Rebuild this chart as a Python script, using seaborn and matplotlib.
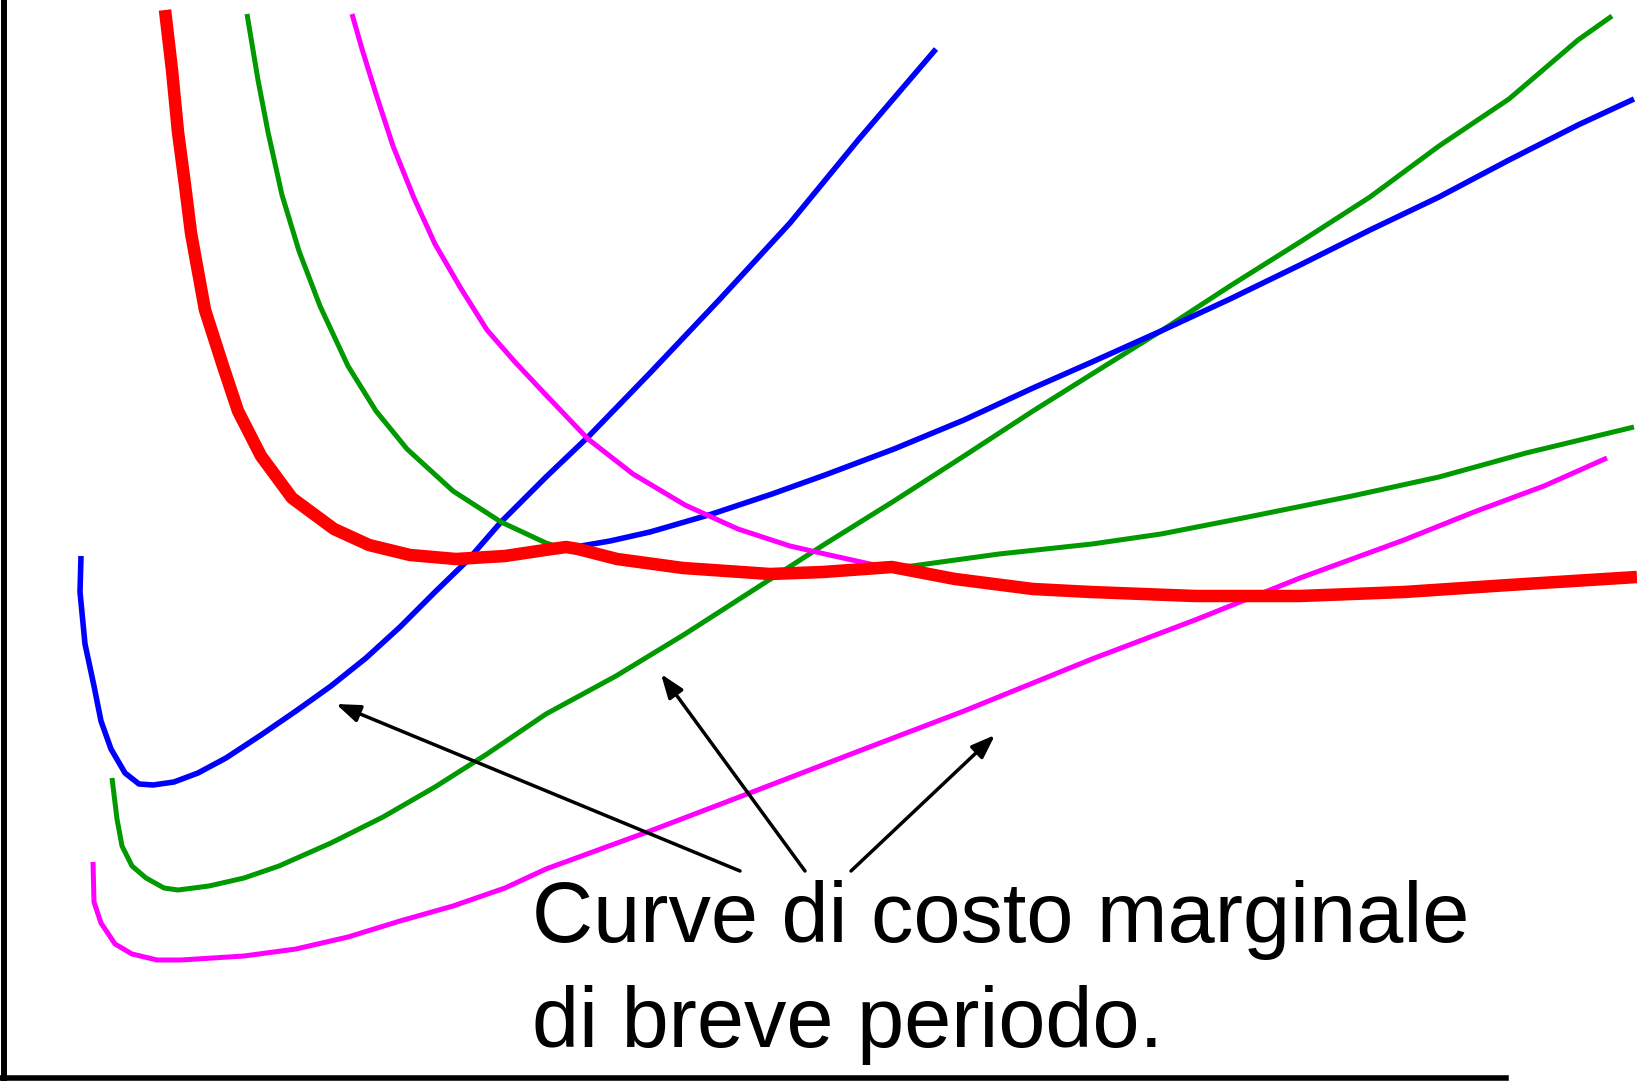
import matplotlib
matplotlib.use("Agg")
import matplotlib.pyplot as plt
import pandas as pd
import seaborn as sns

sns.set_style("white")
plt.rcParams["font.family"] = ["Liberation Sans", "DejaVu Sans"]

# Long-run envelope (thick red)
lac_q = [165, 172, 178, 185, 191, 205, 223, 238, 261, 292, 334, 369, 410, 456, 505, 545, 566, 578,
         617, 683, 770, 823, 892, 955, 1033, 1091, 1195, 1300, 1404, 1509, 1637]
lac_c = [1071, 1011, 949, 896, 848, 771, 715, 670, 625, 583, 552, 536, 526, 522, 525, 531, 534, 532,
         522, 513, 507, 509, 514, 502, 492, 489, 485, 485, 489, 496, 504]

# Short-run marginal cost curves (U shaped)
smc1_q = [81, 80, 85, 94, 101, 111, 125, 139, 153, 174, 198, 226, 261, 296, 331, 366, 400, 435, 467,
          501, 546, 588, 650, 720, 790, 859, 936]
smc1_c = [525, 489, 437, 395, 360, 332, 308, 297, 296, 299, 308, 323, 346, 370, 395, 423, 454, 489, 520,
          559, 604, 644, 708, 782, 858, 942, 1032]

smc2_q = [112, 117, 122, 132, 146, 164, 178, 209, 244, 279, 331, 383, 435, 487, 546, 616, 685, 755, 825,
          894, 964, 1033, 1092, 1161, 1230, 1300, 1370, 1439, 1509, 1578, 1612]
smc2_c = [303, 262, 235, 215, 203, 193, 191, 195, 203, 215, 238, 264, 294, 327, 367, 405, 447, 492, 537,
          580, 625, 670, 707, 750, 795, 839, 884, 935, 982, 1041, 1065]

smc3_q = [93, 94, 101, 115, 132, 157, 181, 244, 296, 348, 400, 453, 505, 546, 650, 755, 859, 964, 1092,
          1195, 1300, 1404, 1474, 1544, 1607]
smc3_c = [219, 179, 158, 137, 127, 121, 121, 125, 132, 144, 160, 175, 193, 212, 250, 290, 330, 370, 422,
          461, 503, 541, 569, 595, 623]

# Short-run average cost branches
sac1_q = [247, 258, 268, 282, 299, 320, 348, 376, 407, 453, 501, 546, 555]
sac1_c = [1067, 1001, 949, 886, 830, 775, 715, 670, 632, 590, 559, 538, 535]

sac1r_q = [575, 610, 650, 712, 772, 825, 894, 964, 1033, 1092, 1161, 1230, 1300, 1370, 1439, 1509, 1578, 1634]
sac1r_c = [534, 540, 549, 567, 587, 606, 632, 661, 693, 719, 750, 782, 816, 851, 884, 921, 956, 982]

sac2_q = [352, 362, 376, 393, 414, 435, 460, 487, 515, 546, 588, 633, 685, 738, 790, 825, 870, 885]
sac2_c = [1067, 1032, 987, 935, 883, 837, 794, 751, 719, 686, 642, 607, 576, 552, 535, 527, 517, 515]

sac2r_q = [890, 912, 999, 1092, 1161, 1248, 1352, 1439, 1526, 1634]
sac2r_c = [514, 515, 527, 537, 547, 564, 585, 604, 628, 654]

# Annotation arrows: (tail, head)
arrow_tails = [(740, 210), (805, 210), (851, 210)]
arrow_heads = [(336, 377), (661, 407), (995, 346)]

label_lines = ["Curve di costo marginale", "di breve periodo."]

RED = "#ff0000"
BLUE = "#0000ff"
GREEN = "#009900"
MAGENTA = "#ff00ff"

fig = plt.figure(figsize=(16.37, 10.81), dpi=100)
ax = fig.add_axes([0, 0, 1, 1])
ax.set_xlim(0, 1637)
ax.set_ylim(0, 1081)


def draw(q, c, color, lw, z):
    df = pd.DataFrame({"q": q, "c": c})
    sns.lineplot(data=df, x="q", y="c", sort=False, estimator=None, color=color,
                 linewidth=lw, ax=ax, zorder=z, solid_capstyle="butt",
                 solid_joinstyle="round")


draw(smc2_q, smc2_c, GREEN, 3.6, 2)
draw(smc3_q, smc3_c, MAGENTA, 3.6, 2)
draw(smc1_q, smc1_c, BLUE, 4.0, 2)
draw(sac1_q, sac1_c, GREEN, 3.6, 3)
draw(sac2r_q, sac2r_c, GREEN, 3.6, 3)
draw(sac1r_q, sac1r_c, BLUE, 4.0, 3)
draw(sac2_q, sac2_c, MAGENTA, 3.6, 3)
draw(lac_q, lac_c, RED, 9.0, 6)

for tail, head in zip(arrow_tails, arrow_heads):
    ax.annotate("", xy=head, xytext=tail,
                arrowprops=dict(arrowstyle="-|>,head_length=0.6,head_width=0.22",
                                mutation_scale=24, lw=2.5, color="black",
                                shrinkA=0, shrinkB=0), zorder=5)

ax.text(532, 139, label_lines[0], fontsize=61, va="baseline", ha="left", color="black")
ax.text(532, 34, label_lines[1], fontsize=61, va="baseline", ha="left", color="black")

# Axes drawn as plain black lines, no ticks
for side in ["top", "right"]:
    ax.spines[side].set_visible(False)
ax.spines["left"].set_position(("data", 4))
ax.spines["bottom"].set_position(("data", 3))
ax.spines["left"].set_linewidth(4.3)
ax.spines["bottom"].set_linewidth(4.0)
ax.spines["left"].set_color("black")
ax.spines["bottom"].set_color("black")
ax.spines["bottom"].set_bounds(1, 1506)
ax.spines["left"].set_bounds(0, 1081)
ax.set_xticks([])
ax.set_yticks([])
ax.set_xlabel("")
ax.set_ylabel("")

fig.savefig("out.png", dpi=100)
